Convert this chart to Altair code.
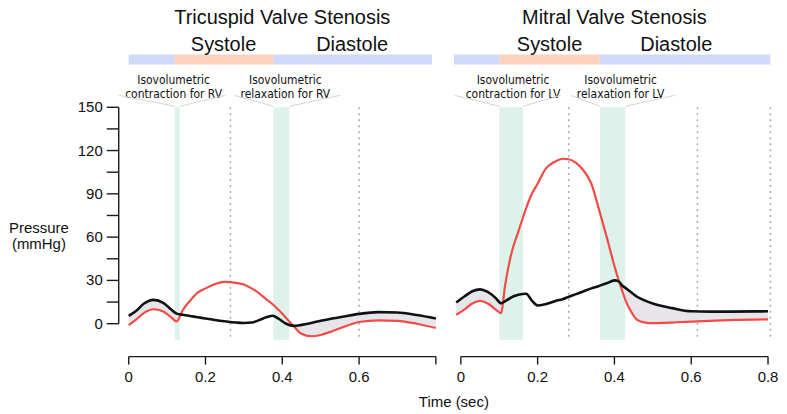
import altair as alt
import pandas as pd
import numpy as np

# ---------------- data ----------------
# Tricuspid valve stenosis (RA = black, RV = red)
tri_t  = [0, 0.02, 0.04, 0.065, 0.09, 0.11, 0.125, 0.14, 0.16, 0.18, 0.2, 0.22, 0.25, 0.28, 0.3,
          0.32, 0.34, 0.36, 0.375, 0.39, 0.41, 0.43, 0.45, 0.475, 0.5, 0.53, 0.56, 0.6, 0.65, 0.7, 0.75, 0.8]
tri_ra = [5.5, 9, 14, 16.5, 14.5, 10, 7, 6.2, 5.3, 4.5, 3.6, 2.8, 1.7, 0.8, 0.5,
          0.8, 2.5, 4.6, 5.5, 3.5, 0, -1.5, -0.8, 0.5, 2, 3.6, 5, 6.8, 8, 7.8, 6, 3.6]
tri_rv = [-1, 3, 7.5, 10, 8.5, 4.5, 1.6, 9, 16, 21.5, 24.5, 27, 29, 28.3, 27.2,
          24.5, 21, 16.5, 13.5, 9.6, 4, -1.8, -7, -8.7, -7.8, -5.2, -2.2, 1.2, 2.3, 2, 0, -3]

# Mitral valve stenosis (LA = black, LV = red)
mit_t  = [-0.012, 0.01, 0.03, 0.05, 0.07, 0.09, 0.105, 0.115, 0.13, 0.15, 0.17, 0.185, 0.2, 0.22,
          0.25, 0.265, 0.28, 0.3, 0.32, 0.34, 0.36, 0.38, 0.4, 0.41, 0.42, 0.43, 0.44, 0.46, 0.48,
          0.5, 0.55, 0.6, 0.65, 0.7, 0.8]
mit_la = [14.7, 19, 22.5, 23.8, 22, 18, 14.2, 15.5, 18, 20, 20.8, 16, 12.6, 13.5,
          16, 17, 18.5, 20.5, 22.5, 24.5, 26.2, 28, 30, 29.5, 26.5, 24.5, 22.5, 18.5, 16,
          14, 10.8, 8.6, 8.4, 8.4, 8.6]
mit_lv = [6.2, 10, 14, 15.8, 14, 10, 7.3, 26, 47, 64, 80, 90, 97, 107,
          113, 114.3, 114, 111.5, 106, 97, 79, 60, 40, 31, 23, 15.5, 10, 2.5, 0.8,
          0.4, 0.8, 1.5, 2, 2.5, 3]

# isovolumetric bands (start, end)
tri_bands = [(0.12, 0.133), (0.377, 0.418)]
mit_bands = [(0.1005, 0.162), (0.362, 0.428)]

# dotted reference lines
tri_dots = [0.265, 0.6]
mit_dots = [0.281, 0.616, 0.806]

# phase bar segments (start, end, phase)
tri_phase = [(0.0, 0.12, "dia"), (0.12, 0.377, "sys"), (0.377, 0.79, "dia")]
mit_phase = [(-0.018, 0.101, "dia"), (0.101, 0.362, "sys"), (0.362, 0.806, "dia")]

# phase labels (x, text)
tri_phase_lbl = [(0.247, "Systole"), (0.582, "Diastole")]
mit_phase_lbl = [(0.231, "Systole"), (0.561, "Diastole")]

# annotations (x center, text)
tri_notes = [(0.117, "Isovolumetric\ncontraction for RV"), (0.408, "Isovolumetric\nrelaxation for RV")]
mit_notes = [(0.136, "Isovolumetric\ncontraction for LV"), (0.416, "Isovolumetric\nrelaxation for LV")]

# callout segments (outer x, inner x)
tri_callouts = [(-0.026, 0.121), (0.252, 0.133), (0.275, 0.377), (0.551, 0.418)]
mit_callouts = [(-0.016, 0.1005), (0.26, 0.162), (0.286, 0.362), (0.558, 0.428)]

titles = ["Tricuspid Valve Stenosis", "Mitral Valve Stenosis"]
x_ticks = [0, 0.2, 0.4, 0.6, 0.8]
y_ticks = list(range(0, 151, 15))
y_labelled = [0, 30, 60, 90, 120, 150]
x_title = "Time (sec)"
y_title = "Pressure\n(mmHg)"

# ---------------- styling ----------------
W, H = 308, 217
BAND_BOTTOM = 233
X_OFF = 33        # x-axis line below the plot
X_TICK = 8
Y_OFF = 10        # y-axis line left of the plot
Y_TICK = 12
LW = 1.4          # axis line thickness
BLACK = "#111111"
AXIS = "#1a1a1a"
RED = "#f04b46"
FILL = "#e7e5ea"
GREEN = "#dcf2ea"
DOT = "#a9a9bd"
BLUE_BAR = "#cfdaf7"
SALMON = "#fbd2bf"
FONT = "Liberation Sans"
NARROW = "Liberation Sans Narrow, DejaVu Sans Condensed, sans-serif"

xscale = alt.Scale(domain=[0, 0.8], nice=False, zero=False)
yscale = alt.Scale(domain=[0, 150], nice=False, zero=False)


def X(f):
    return alt.X(f, scale=xscale, axis=None)


def Y(f):
    return alt.Y(f, scale=yscale, axis=None)


def panel(t, atr, ven, bands, dots, phase, phase_lbl, notes, callouts, title, first):
    df = pd.DataFrame({"t": t, "atr": atr, "ven": ven})
    df["lo"] = np.minimum(df["atr"], df["ven"])
    base = alt.Chart(df)

    band_df = pd.DataFrame(bands, columns=["s", "e"])
    band = alt.Chart(band_df).mark_rect(color=GREEN).encode(
        x=X("s:Q"), x2="e:Q",
        y=alt.value(0), y2=alt.value(BAND_BOTTOM))

    dot_df = pd.DataFrame({"x": dots})
    dot = alt.Chart(dot_df).mark_rule(color=DOT, strokeDash=[2, 4], strokeWidth=1.5).encode(
        x=X("x:Q"), y=alt.value(0), y2=alt.value(BAND_BOTTOM))

    area = base.mark_area(color=FILL, interpolate="monotone").encode(
        x=X("t:Q"), y=Y("lo:Q"), y2="atr:Q")

    red = base.mark_line(color=RED, strokeWidth=2.2, interpolate="monotone").encode(
        x=X("t:Q"), y=Y("ven:Q"))

    black = base.mark_line(color=BLACK, strokeWidth=2.6, interpolate="monotone").encode(
        x=X("t:Q"), y=Y("atr:Q"))

    ph_df = pd.DataFrame(phase, columns=["s", "e", "p"])
    ph = alt.Chart(ph_df).mark_rect().encode(
        x=X("s:Q"), x2="e:Q",
        y=alt.value(-53), y2=alt.value(-43),
        color=alt.Color("p:N", scale=alt.Scale(domain=["dia", "sys"], range=[BLUE_BAR, SALMON]),
                        legend=None))

    pl_df = pd.DataFrame(phase_lbl, columns=["x", "txt"])
    pl = alt.Chart(pl_df).mark_text(fontSize=20, font=FONT, color="#111", baseline="middle",
                                     align="center").encode(
        x=X("x:Q"), y=alt.value(-62), text="txt:N")

    nt_df = pd.DataFrame(notes, columns=["x", "txt"])
    nt = alt.Chart(nt_df).mark_text(fontSize=12, font=NARROW, color="#111", baseline="middle",
                                     align="center", lineBreak="\n", lineHeight=14).encode(
        x=X("x:Q"), y=alt.value(-27), text="txt:N")

    co_df = pd.DataFrame(callouts, columns=["xo", "xi"])
    co = alt.Chart(co_df).mark_rule(color="#d4d4d4", strokeWidth=1).encode(
        x=X("xo:Q"), x2="xi:Q",
        y=alt.value(-12), y2=alt.value(-1))

    tt_df = pd.DataFrame({"x": [0.4], "txt": [title]})
    tt = alt.Chart(tt_df).mark_text(fontSize=20, font=FONT, color="#111", baseline="middle",
                                     align="center").encode(
        x=X("x:Q"), y=alt.value(-89), text="txt:N")

    # x axis: line (filled rect), ticks and labels from the tick array through the scale
    xdom_df = pd.DataFrame({"a": [x_ticks[0]], "b": [x_ticks[-1]]})
    xdom = alt.Chart(xdom_df).mark_rect(color=AXIS).encode(
        x=X("a:Q"), x2="b:Q",
        y=alt.value(H + X_OFF - LW / 2), y2=alt.value(H + X_OFF + LW / 2))
    xt_df = pd.DataFrame({"v": x_ticks})
    xt = alt.Chart(xt_df).mark_tick(color=AXIS, orient="vertical", size=X_TICK,
                                     thickness=LW, opacity=1).encode(
        x=X("v:Q"), y=alt.value(H + X_OFF + X_TICK / 2))
    shown = [v for v in x_ticks if (not first) or v < 0.79]
    xl_df = pd.DataFrame({"v": shown, "lbl": [f"{v:g}" for v in shown]})
    xl = alt.Chart(xl_df).mark_text(fontSize=15, font=FONT, color="#111", baseline="top",
                                     align="center").encode(
        x=X("v:Q"), y=alt.value(H + X_OFF + X_TICK + 5), text="lbl:N")

    layers = [band, dot, area, red, black, ph, pl, nt, co, tt, xdom, xt, xl]

    if first:
        ydom_df = pd.DataFrame({"a": [y_ticks[0]], "b": [y_ticks[-1]]})
        ydom = alt.Chart(ydom_df).mark_rect(color=AXIS).encode(
            y=Y("a:Q"), y2="b:Q",
            x=alt.value(-Y_OFF - LW / 2), x2=alt.value(-Y_OFF + LW / 2))
        yt_df = pd.DataFrame({"v": y_ticks})
        yt = alt.Chart(yt_df).mark_tick(color=AXIS, orient="horizontal", size=Y_TICK,
                                         thickness=LW, opacity=1).encode(
            y=Y("v:Q"), x=alt.value(-Y_OFF - Y_TICK / 2))
        yl_df = pd.DataFrame({"v": y_labelled, "lbl": [str(v) for v in y_labelled]})
        yl = alt.Chart(yl_df).mark_text(fontSize=15, font=FONT, color="#111", baseline="middle",
                                         align="right").encode(
            y=Y("v:Q"), x=alt.value(-Y_OFF - Y_TICK - 4), text="lbl:N")
        yti_df = pd.DataFrame({"txt": [y_title]})
        yti = alt.Chart(yti_df).mark_text(fontSize=15, font=FONT, color="#111", baseline="middle",
                                           align="center", lineBreak="\n", lineHeight=16).encode(
            x=alt.value(-90), y=alt.value(121), text="txt:N")
        xti_df = pd.DataFrame({"txt": [x_title]})
        xti = alt.Chart(xti_df).mark_text(fontSize=15, font=FONT, color="#111", baseline="middle",
                                           align="center").encode(
            x=alt.value(326), y=alt.value(H + X_OFF + 46), text="txt:N")
        layers += [ydom, yt, yl, yti, xti]

    return alt.layer(*layers).properties(width=W, height=H)


left = panel(tri_t, tri_ra, tri_rv, tri_bands, tri_dots, tri_phase, tri_phase_lbl, tri_notes,
             tri_callouts, titles[0], True)
right = panel(mit_t, mit_la, mit_lv, mit_bands, mit_dots, mit_phase, mit_phase_lbl, mit_notes,
              mit_callouts, titles[1], False)

chart = alt.hconcat(left, right, spacing=25, bounds="flush").properties(
    padding=0
).resolve_scale(color="independent").configure(font=FONT).configure_view(strokeWidth=0, stroke=None)

chart.save("out.html", embed_options={"renderer": "svg", "actions": False})
